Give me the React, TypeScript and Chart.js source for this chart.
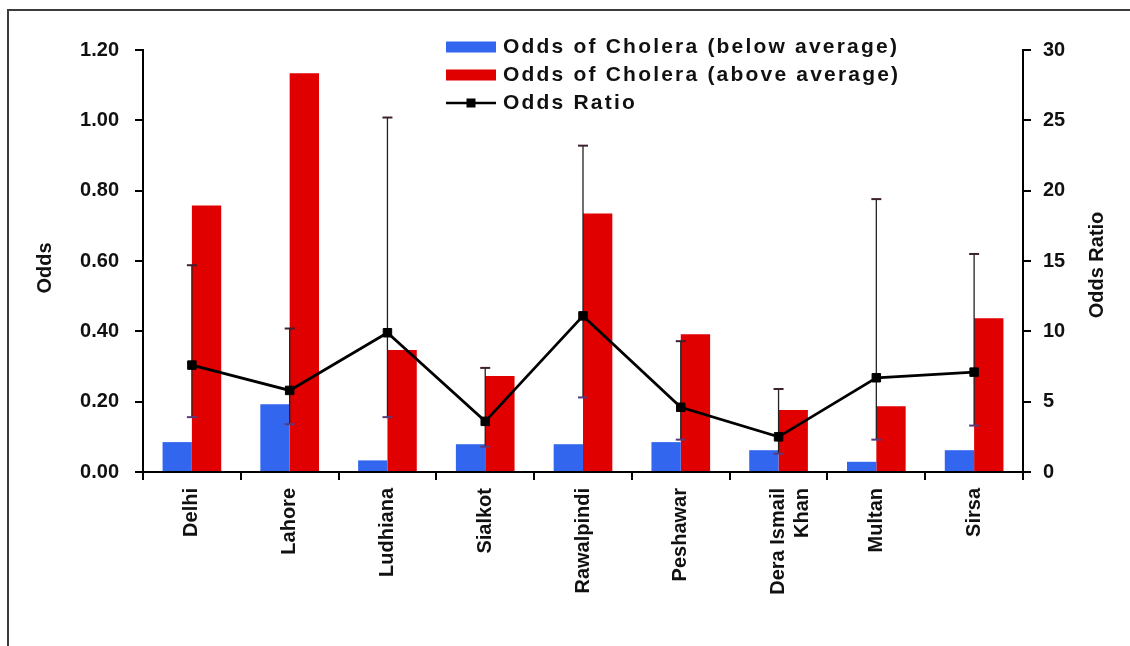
import React, { useEffect, useRef } from 'react';
import { Chart, registerables } from 'chart.js';

Chart.register(...registerables);

// Districts along the x axis
const cities: (string | string[])[] = [
  'Delhi',
  'Lahore',
  'Ludhiana',
  'Sialkot',
  'Rawalpindi',
  'Peshawar',
  ['Dera Ismail', 'Khan'],
  'Multan',
  'Sirsa',
];

// Odds of cholera (left axis)
const oddsBelow = [0.085, 0.193, 0.033, 0.079, 0.079, 0.085, 0.062, 0.029, 0.062];
const oddsAbove = [0.758, 1.134, 0.347, 0.273, 0.735, 0.392, 0.176, 0.187, 0.437];

// Odds ratio with its confidence interval (right axis)
const oddsRatio = [7.6, 5.8, 9.9, 3.6, 11.1, 4.6, 2.5, 6.7, 7.1];
const orLower = [3.9, 3.4, 3.9, 1.8, 5.3, 2.3, 1.3, 2.3, 3.3];
const orUpper = [14.7, 10.2, 25.2, 7.4, 23.2, 9.3, 5.9, 19.4, 15.5];

// Axis ranges
const oddsAxis = { min: 0, max: 1.2, step: 0.2 };
const ratioAxis = { min: 0, max: 30, step: 5 };

const FONT = '"Liberation Sans", Arial, sans-serif';
const BLUE = '#3366ee';
const RED = '#e00000';

const errorBarPlugin = {
  id: 'errorBars',
  beforeDatasetDraw(chart: any, args: any) {
    if (args.index !== 2) return;
    const meta = chart.getDatasetMeta(2);
    const y1 = chart.scales.y1;
    const ctx = chart.ctx;
    ctx.save();
    meta.data.forEach((pt: any, i: number) => {
      const x = pt.x;
      const top = y1.getPixelForValue(orUpper[i]);
      const bot = y1.getPixelForValue(orLower[i]);
      ctx.strokeStyle = '#222';
      ctx.lineWidth = 1.3;
      ctx.beginPath();
      ctx.moveTo(x, top);
      ctx.lineTo(x, bot);
      ctx.stroke();
      ctx.lineWidth = 2;
      ctx.strokeStyle = '#3e2030';
      ctx.beginPath();
      ctx.moveTo(x - 5, top);
      ctx.lineTo(x + 5, top);
      ctx.stroke();
      ctx.strokeStyle = '#5a3a7a';
      ctx.beginPath();
      ctx.moveTo(x - 5, bot);
      ctx.lineTo(x + 5, bot);
      ctx.stroke();
    });
    ctx.restore();
  },
};

const titlesPlugin = {
  id: 'axisTitles',
  afterDraw(chart: any) {
    const { ctx, chartArea } = chart;
    const midY = (chartArea.top + chartArea.bottom) / 2;
    ctx.save();
    ctx.fillStyle = '#111';
    ctx.font = `bold 20px ${FONT}`;
    ctx.textAlign = 'center';
    ctx.textBaseline = 'middle';
    ctx.save();
    ctx.translate(chartArea.left - 98, midY + 7);
    ctx.rotate(-Math.PI / 2);
    ctx.fillText('Odds', 0, 0);
    ctx.restore();
    ctx.save();
    ctx.translate(chartArea.right + 74, midY + 4);
    ctx.rotate(-Math.PI / 2);
    ctx.fillText('Odds Ratio', 0, 0);
    ctx.restore();
    ctx.restore();
  },
};

const legendPlugin = {
  id: 'boxLegend',
  afterDraw(chart: any) {
    const ctx = chart.ctx;
    const x0 = 446;
    const sw = 50;
    const rows = [47, 75, 103];
    ctx.save();
    ctx.font = `bold 21px ${FONT}`;
    (ctx as any).letterSpacing = '2.2px';
    ctx.textBaseline = 'middle';
    ctx.textAlign = 'left';
    chart.data.datasets.forEach((ds: any, i: number) => {
      const y = rows[i];
      if (ds.type === 'line') {
        ctx.strokeStyle = ds.borderColor;
        ctx.lineWidth = 2.5;
        ctx.beginPath();
        ctx.moveTo(x0, y);
        ctx.lineTo(x0 + sw, y);
        ctx.stroke();
        ctx.fillStyle = ds.borderColor;
        ctx.fillRect(x0 + sw / 2 - 4.5, y - 4.5, 9, 9);
      } else {
        ctx.fillStyle = ds.backgroundColor;
        ctx.fillRect(x0, y - 5.5, sw, 11);
      }
      ctx.fillStyle = '#111';
      ctx.fillText(ds.label, x0 + sw + 7, y);
    });
    ctx.restore();
  },
};

export default function App() {
  const canvasRef = useRef<HTMLCanvasElement | null>(null);

  useEffect(() => {
    if (!canvasRef.current) return;
    const chart = new Chart(canvasRef.current, {
      type: 'bar',
      data: {
        labels: cities as any,
        datasets: [
          {
            type: 'bar',
            label: 'Odds of Cholera (below average)',
            data: oddsBelow,
            backgroundColor: BLUE,
            yAxisID: 'y',
            order: 1,
            categoryPercentage: 0.6,
            barPercentage: 1.0,
          },
          {
            type: 'bar',
            label: 'Odds of Cholera (above average)',
            data: oddsAbove,
            backgroundColor: RED,
            yAxisID: 'y',
            order: 1,
            categoryPercentage: 0.6,
            barPercentage: 1.0,
          },
          {
            type: 'line',
            label: 'Odds Ratio',
            data: oddsRatio,
            borderColor: '#000000',
            backgroundColor: '#000000',
            borderWidth: 2.8,
            pointStyle: 'rect',
            pointRadius: 6,
            pointBorderWidth: 1,
            tension: 0,
            yAxisID: 'y1',
            order: 0,
          } as any,
        ],
      },
      options: {
        responsive: false,
        animation: false,
        devicePixelRatio: 1,
        layout: { padding: { top: 50, left: 0, right: 0, bottom: 0 } },
        plugins: {
          legend: { display: false },
          tooltip: { enabled: false },
        },
        scales: {
          x: {
            type: 'category',
            offset: true,
            grid: {
              offset: true,
              drawOnChartArea: false,
              drawTicks: true,
              tickLength: 8,
              color: '#000',
              lineWidth: 2,
            },
            border: { display: true, color: '#000', width: 2 },
            ticks: {
              autoSkip: false,
              maxRotation: 90,
              minRotation: 90,
              padding: 8,
              color: '#111',
              font: { family: FONT, size: 20, weight: 'bold' },
            },
            afterFit: (s: any) => {
              s.height = 174;
            },
          },
          y: {
            position: 'left',
            min: oddsAxis.min,
            max: oddsAxis.max,
            grid: {
              drawOnChartArea: false,
              drawTicks: true,
              tickLength: 8,
              color: '#000',
              lineWidth: 2,
            },
            border: { display: true, color: '#000', width: 2 },
            ticks: {
              stepSize: oddsAxis.step,
              padding: 16,
              color: '#111',
              font: { family: FONT, size: 20, weight: 'bold' },
              callback: (v: any) => Number(v).toFixed(2),
            },
            afterFit: (s: any) => {
              s.width = 143;
            },
          },
          y1: {
            position: 'right',
            min: ratioAxis.min,
            max: ratioAxis.max,
            grid: {
              drawOnChartArea: false,
              drawTicks: true,
              tickLength: 8,
              color: '#000',
              lineWidth: 2,
            },
            border: { display: true, color: '#000', width: 2 },
            ticks: {
              stepSize: ratioAxis.step,
              padding: 12,
              color: '#111',
              font: { family: FONT, size: 20, weight: 'bold' },
            },
            afterFit: (s: any) => {
              s.width = 107;
            },
          },
        },
      } as any,
      plugins: [errorBarPlugin, titlesPlugin, legendPlugin],
    });
    return () => chart.destroy();
  }, []);

  return (
    <div
      style={{
        position: 'absolute',
        left: 0,
        top: 0,
        width: 1130,
        height: 646,
        overflow: 'hidden',
        background: '#ffffff',
      }}
    >
      <div
        style={{
          position: 'absolute',
          left: 7,
          top: 9,
          width: 1200,
          height: 700,
          border: '2px solid #3c3c3c',
        }}
      />
      <canvas
        ref={canvasRef}
        width={1130}
        height={646}
        style={{ position: 'absolute', left: 0, top: 0 }}
      />
    </div>
  );
}
